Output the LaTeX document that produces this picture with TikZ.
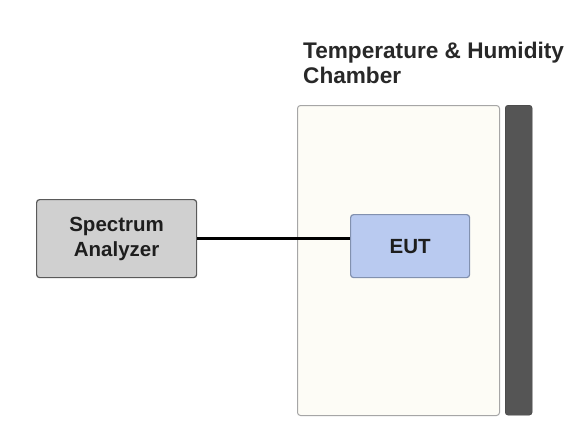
\documentclass[tikz,border=0pt]{standalone}
\usepackage{fontspec}
\setmainfont{Liberation Sans}
\begin{document}
\begin{tikzpicture}[x=1pt,y=-1pt,
  box/.style={draw, rounded corners=3pt, line width=1.2pt, align=center, font=\bfseries\fontsize{20.5}{25}\selectfont, text={rgb,255:red,30;green,30;blue,30}, inner sep=0pt},
  wire/.style={line width=2.3pt, black}]
\useasboundingbox[fill=white] (0,0) rectangle (570,432);
\node[draw=gray!70, line width=1pt, rounded corners=3pt, fill={rgb,255:red,253;green,252;blue,246}, minimum width=202pt, minimum height=310pt, anchor=north west, inner sep=0pt] (chamber) at (297,105) {};
\node[draw={rgb,255:red,60;green,60;blue,60}, rounded corners=3pt, fill={rgb,255:red,85;green,85;blue,85}, minimum width=27pt, minimum height=310pt, anchor=north west, inner sep=0pt] (bar) at (505,105) {};
\node[anchor=base west, align=left, font=\bfseries\fontsize{22.6}{25}\selectfont, text={rgb,255:red,40;green,40;blue,40}, inner sep=0pt] (title) at (303,83) {Temperature \& Humidity\\Chamber};
\node[box, draw={rgb,255:red,90;green,90;blue,90}, fill={rgb,255:red,208;green,208;blue,208}, minimum width=160pt, minimum height=78pt, anchor=north west] (sa) at (36,199) {Spectrum\\Analyzer};
\node[box, draw={rgb,255:red,130;green,145;blue,175}, fill={rgb,255:red,185;green,202;blue,240}, minimum width=119pt, minimum height=63pt, anchor=north west] (eut) at (350,214) {EUT};
\draw[wire] (sa.east) -- (sa.east -| eut.west);
\end{tikzpicture}
\end{document}
